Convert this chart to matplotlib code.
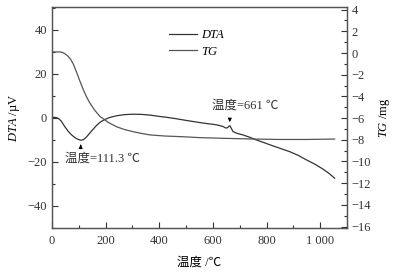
import matplotlib
matplotlib.use("Agg")
import matplotlib.pyplot as plt
from matplotlib.ticker import MultipleLocator, FuncFormatter

plt.rcParams["font.family"] = ["Liberation Serif", "Noto Sans CJK SC"]
plt.rcParams["mathtext.fontset"] = "custom"
plt.rcParams["mathtext.rm"] = "Liberation Serif"
plt.rcParams["mathtext.it"] = "Liberation Serif:italic"
plt.rcParams["axes.unicode_minus"] = True

# DTA curve (uV, left axis)
dta_t = [0, 15, 25, 35, 48, 60, 73, 85, 95, 104, 111.3, 118, 129, 140, 150, 166, 180,
         197, 215, 241, 270, 303, 335, 365, 400, 427, 460, 489, 520, 551, 580, 601,
         620, 638, 648, 655, 660, 664, 668, 675, 690, 712, 740, 762, 790, 824, 855,
         886, 918, 948, 980, 1010, 1035, 1054]
dta_v = [0.3, 0.2, -0.3, -1.5, -4.0, -6.0, -7.7, -8.9, -9.6, -10.0, -10.1, -9.8, -8.6,
         -7.0, -5.6, -3.4, -1.9, -0.7, 0.2, 1.0, 1.5, 1.7, 1.6, 1.3, 0.7, 0.3, -0.3,
         -0.9, -1.5, -2.1, -2.6, -2.9, -3.3, -3.9, -4.6, -4.4, -3.7, -3.6, -4.6, -6.2,
         -7.0, -7.7, -8.9, -10.0, -11.2, -12.7, -14.0, -15.3, -17.0, -19.0, -21.0,
         -23.2, -25.4, -27.4]

# TG curve (mg, right axis)
tg_t = [0, 30, 40, 50, 60, 70, 80, 92, 105, 117, 129, 141, 160, 179, 210, 241, 270,
        302, 335, 365, 420, 489, 551, 650, 750, 850, 950, 1054]
tg_m = [0.1, 0.1, 0.05, -0.1, -0.3, -0.6, -1.05, -1.8, -2.65, -3.4, -4.05, -4.6, -5.3,
        -5.85, -6.4, -6.8, -7.05, -7.25, -7.42, -7.55, -7.65, -7.72, -7.8, -7.87,
        -7.93, -7.97, -7.97, -7.93]

fig = plt.figure(figsize=(3.99, 2.73), dpi=100)
ax = fig.add_axes([52 / 399, 45 / 273, 295 / 399, 221 / 273])
ax2 = ax.twinx()

fs = 9
ln1, = ax.plot(dta_t, dta_v, color="#333333", lw=0.9, label="DTA")
ln2, = ax2.plot(tg_t, tg_m, color="#555555", lw=0.9, label="TG")

ax.set_xlim(0, 1100)
ax.set_ylim(-50, 50.4)
ax2.set_ylim(-16.13, 4.24)

ax.xaxis.set_major_locator(MultipleLocator(200))
ax.xaxis.set_minor_locator(MultipleLocator(100))
ax.yaxis.set_major_locator(MultipleLocator(20))
ax.yaxis.set_minor_locator(MultipleLocator(10))
ax2.yaxis.set_major_locator(MultipleLocator(2))
ax2.yaxis.set_minor_locator(MultipleLocator(1))

ax.xaxis.set_major_formatter(FuncFormatter(lambda v, p: f"{int(v):,}".replace(",", " ")))
ax.yaxis.set_major_formatter(FuncFormatter(lambda v, p: f"{int(v)}".replace("-", "\u2212")))
ax2.yaxis.set_major_formatter(FuncFormatter(lambda v, p: f"{int(v)}".replace("-", "\u2212")))

for a in (ax, ax2):
    a.tick_params(which="both", direction="in", labelsize=fs, colors="#333333", width=0.8)
    a.tick_params(which="major", length=4)
    a.tick_params(which="minor", length=2.5)
    for s in a.spines.values():
        s.set_color("#555555")
        s.set_linewidth(0.9)
ax.tick_params(axis="x", pad=5)

ax.set_ylabel(r"$\mathit{DTA}$ /µV", fontsize=fs, labelpad=4)
ax2.set_ylabel(r"$\mathit{TG}$ /mg", fontsize=fs, labelpad=4)
ax.set_xlabel("温度 /℃", fontsize=fs, labelpad=7)

leg = ax.legend([ln1, ln2], ["DTA", "TG"], loc="upper left", bbox_to_anchor=(0.36, 0.95),
                frameon=False, handlelength=2.2, handletextpad=0.3,
                labelspacing=0.35, prop={"style": "italic", "size": fs})

arrow = dict(arrowstyle="-|>", color="black", lw=0.8, mutation_scale=5)
ax.annotate("", xy=(107, -10.8), xytext=(107, -14.0), arrowprops=arrow)
ax.text(48, -18.6, "温度=111.3 ℃", fontsize=fs, va="center", ha="left", color="#333333")
ax.annotate("", xy=(663, -3.2), xytext=(663, 0.6), arrowprops=arrow)
ax.text(596, 5.6, "温度=661 ℃", fontsize=fs, va="center", ha="left", color="#333333")

fig.savefig("out.png", dpi=100)
